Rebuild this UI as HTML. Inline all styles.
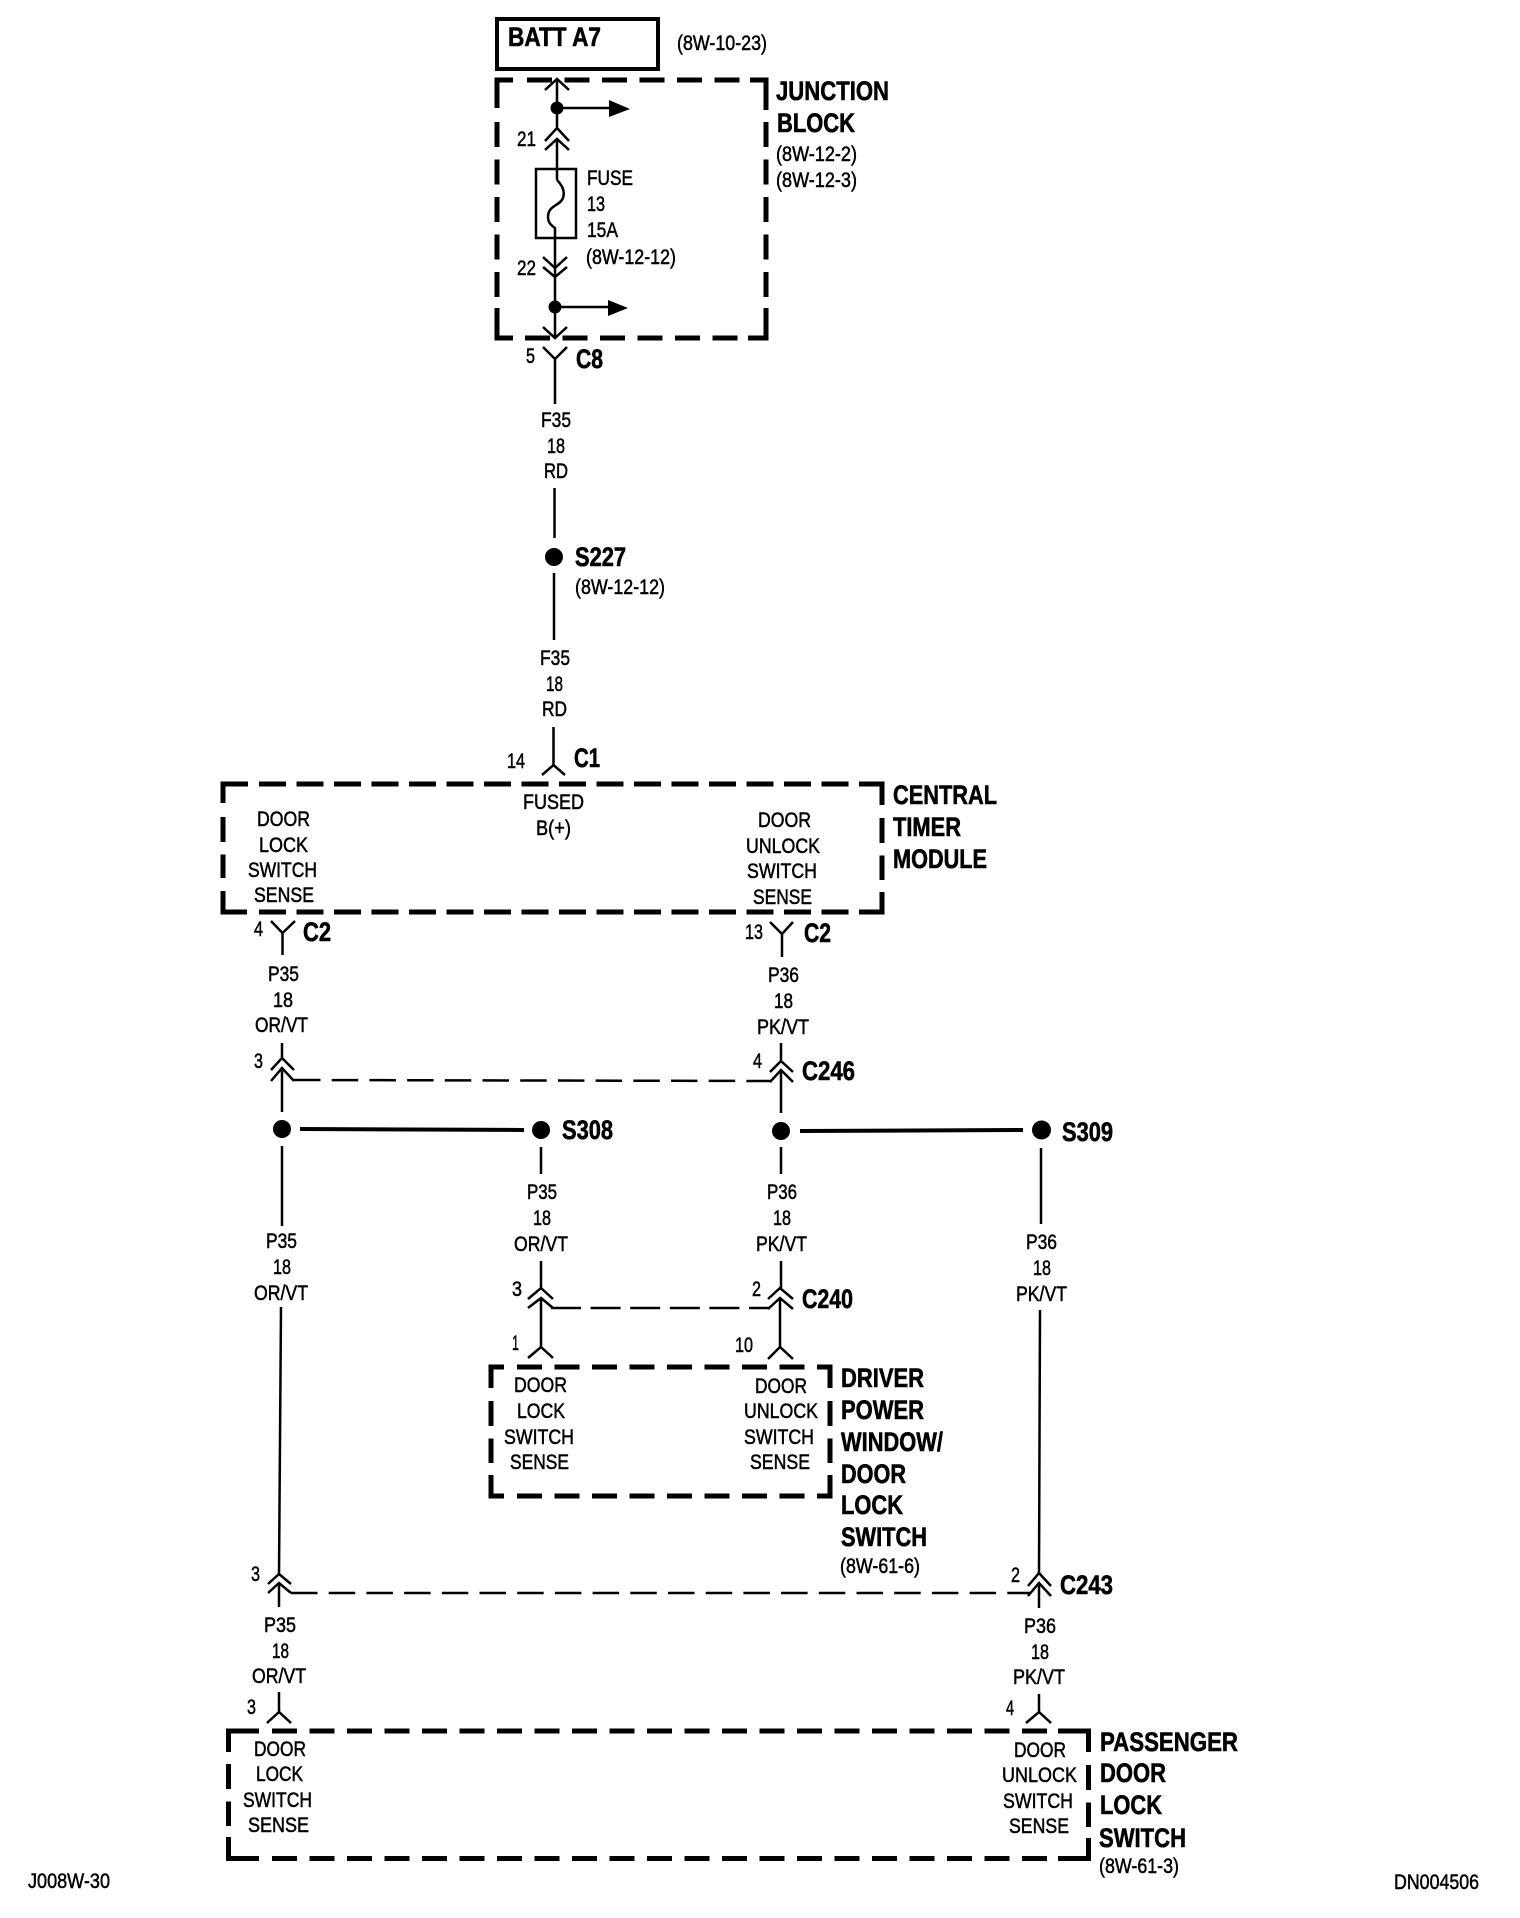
<!DOCTYPE html>
<html><head><meta charset="utf-8"><style>
html,body{margin:0;padding:0;background:#fff}
svg{display:block}
text{font-family:"Liberation Sans",sans-serif;fill:#000}
.r{font-size:21px;stroke:#000;stroke-width:.5}
.b{font-size:27px;font-weight:bold;stroke:#000;stroke-width:.6}
.w{stroke:#000;stroke-width:2.5;fill:none}
.d{stroke:#000;stroke-width:5;fill:none;stroke-dasharray:25 12.5}
.c{stroke:#000;stroke-width:5;fill:none}
.t{stroke:#000;stroke-width:2.5;fill:none;stroke-dasharray:26.5 11.2}
</style></head><body>
<svg xmlns="http://www.w3.org/2000/svg" width="1520" height="1918" viewBox="0 0 1520 1918">
<rect width="1520" height="1918" fill="#fff"/>

<!-- BATT -->
<rect x="497" y="19" width="161" height="50" fill="none" stroke="#000" stroke-width="4"/>
<text class="b" x="508" y="46" textLength="93" lengthAdjust="spacingAndGlyphs">BATT A7</text>
<text class="r" x="677" y="50" textLength="90" lengthAdjust="spacingAndGlyphs">(8W-10-23)</text>

<!-- Junction block -->
<polyline class="c" points="497,108 497,80 513,80"/>
<polyline class="c" points="750,80 766,80 766,110"/>
<polyline class="c" points="497,308 497,338 513,338"/>
<polyline class="c" points="748,338 766,338 766,308"/>
<line class="d" x1="527" y1="80" x2="740" y2="80"/>
<line class="d" x1="525" y1="338" x2="740" y2="338"/>
<line class="d" x1="497" y1="122" x2="497" y2="297"/>
<line class="d" x1="766" y1="122" x2="766" y2="297"/>
<path class="w" d="M557 79V128M545 90L557 79L569 90M545 141L557 128L569 141M545 150L557 139L569 150M557 139V180"/>
<circle cx="557" cy="108" r="6.5"/>
<path class="w" d="M557 108H612"/><path d="M609 100L630 109L609 117Z"/>
<rect x="536" y="169" width="40" height="69" fill="none" stroke="#000" stroke-width="2.5"/>
<path class="w" d="M557 180C563 186 565 192 563 198C560 206 548 205 548 217C548 223 552 226 555 228V338M543 257L555 268L567 257M543 267L555 277L567 267M543 327L555 338L567 327"/>
<circle cx="555" cy="307" r="6.5"/>
<path class="w" d="M555 307H610"/><path d="M608 300L628 308L608 316Z"/>
<text class="b" x="776" y="100" textLength="113" lengthAdjust="spacingAndGlyphs">JUNCTION</text>
<text class="b" x="777" y="132" textLength="78" lengthAdjust="spacingAndGlyphs">BLOCK</text>
<text class="r" x="776" y="161" textLength="81" lengthAdjust="spacingAndGlyphs">(8W-12-2)</text>
<text class="r" x="776" y="187" textLength="81" lengthAdjust="spacingAndGlyphs">(8W-12-3)</text>
<text class="r" x="587" y="185" textLength="46" lengthAdjust="spacingAndGlyphs">FUSE</text>
<text class="r" x="587" y="211" textLength="18" lengthAdjust="spacingAndGlyphs">13</text>
<text class="r" x="587" y="237" textLength="31" lengthAdjust="spacingAndGlyphs">15A</text>
<text class="r" x="586" y="264" textLength="90" lengthAdjust="spacingAndGlyphs">(8W-12-12)</text>
<text class="r" x="517" y="146" textLength="19" lengthAdjust="spacingAndGlyphs">21</text>
<text class="r" x="517" y="275" textLength="19" lengthAdjust="spacingAndGlyphs">22</text>
<text class="r" x="526" y="363" textLength="9" lengthAdjust="spacingAndGlyphs">5</text>
<text class="b" x="576" y="368" textLength="27" lengthAdjust="spacingAndGlyphs">C8</text>

<!-- C8 to S227 to C1 -->
<path class="w" d="M543 347L555 359L567 347M555 359V404M554.5 488V538M554 573V640M553.5 727V765M542 775L553.5 765L565 775"/>
<text class="r" x="541" y="427" textLength="30" lengthAdjust="spacingAndGlyphs">F35</text>
<text class="r" x="547" y="453" textLength="18" lengthAdjust="spacingAndGlyphs">18</text>
<text class="r" x="544" y="478" textLength="24" lengthAdjust="spacingAndGlyphs">RD</text>
<circle cx="554" cy="557" r="9"/>
<text class="b" x="575" y="566" textLength="51" lengthAdjust="spacingAndGlyphs">S227</text>
<text class="r" x="575" y="594" textLength="90" lengthAdjust="spacingAndGlyphs">(8W-12-12)</text>
<text class="r" x="540" y="665" textLength="30" lengthAdjust="spacingAndGlyphs">F35</text>
<text class="r" x="546" y="691" textLength="17" lengthAdjust="spacingAndGlyphs">18</text>
<text class="r" x="542" y="716" textLength="25" lengthAdjust="spacingAndGlyphs">RD</text>
<text class="r" x="507" y="768" textLength="18" lengthAdjust="spacingAndGlyphs">14</text>
<text class="b" x="574" y="767" textLength="26" lengthAdjust="spacingAndGlyphs">C1</text>

<!-- Central timer module -->
<polyline class="c" points="223,803 223,784 248,784"/>
<polyline class="c" points="859,784 882,784 882,805"/>
<polyline class="c" points="223,891 223,912 247,912"/>
<polyline class="c" points="859,912 882,912 882,892"/>
<line class="d" x1="259" y1="784" x2="848.5" y2="784" style="stroke-dasharray:27 10.5"/>
<line class="d" x1="259" y1="912" x2="848.5" y2="912" style="stroke-dasharray:27 10.5"/>
<line class="d" x1="223" y1="817" x2="223" y2="878"/>
<line class="d" x1="882" y1="818" x2="882" y2="880"/>
<text class="r" x="523" y="809" textLength="61" lengthAdjust="spacingAndGlyphs">FUSED</text>
<text class="r" x="536" y="835" textLength="35" lengthAdjust="spacingAndGlyphs">B(+)</text>
<text class="r" x="257" y="826" textLength="53" lengthAdjust="spacingAndGlyphs">DOOR</text>
<text class="r" x="259" y="852" textLength="49" lengthAdjust="spacingAndGlyphs">LOCK</text>
<text class="r" x="248" y="877" textLength="69" lengthAdjust="spacingAndGlyphs">SWITCH</text>
<text class="r" x="254" y="902" textLength="60" lengthAdjust="spacingAndGlyphs">SENSE</text>
<text class="r" x="758" y="827" textLength="53" lengthAdjust="spacingAndGlyphs">DOOR</text>
<text class="r" x="746" y="853" textLength="74" lengthAdjust="spacingAndGlyphs">UNLOCK</text>
<text class="r" x="747" y="878" textLength="70" lengthAdjust="spacingAndGlyphs">SWITCH</text>
<text class="r" x="753" y="904" textLength="59" lengthAdjust="spacingAndGlyphs">SENSE</text>
<text class="b" x="893" y="804" textLength="104" lengthAdjust="spacingAndGlyphs">CENTRAL</text>
<text class="b" x="893" y="836" textLength="68" lengthAdjust="spacingAndGlyphs">TIMER</text>
<text class="b" x="893" y="868" textLength="94" lengthAdjust="spacingAndGlyphs">MODULE</text>

<!-- C2 connectors -->
<path class="w" d="M271 921L282.5 933L295 921M282.5 933V955M770 922L782 934L793 922M782 934V957"/>
<text class="r" x="254" y="936" textLength="9" lengthAdjust="spacingAndGlyphs">4</text>
<text class="b" x="303" y="941" textLength="28" lengthAdjust="spacingAndGlyphs">C2</text>
<text class="r" x="745" y="939" textLength="18" lengthAdjust="spacingAndGlyphs">13</text>
<text class="b" x="804" y="942" textLength="27" lengthAdjust="spacingAndGlyphs">C2</text>
<text class="r" x="268" y="981" textLength="31" lengthAdjust="spacingAndGlyphs">P35</text>
<text class="r" x="273" y="1007" textLength="20" lengthAdjust="spacingAndGlyphs">18</text>
<text class="r" x="255" y="1032" textLength="53" lengthAdjust="spacingAndGlyphs">OR/VT</text>
<text class="r" x="768" y="982" textLength="31" lengthAdjust="spacingAndGlyphs">P36</text>
<text class="r" x="774" y="1008" textLength="19" lengthAdjust="spacingAndGlyphs">18</text>
<text class="r" x="757" y="1034" textLength="52" lengthAdjust="spacingAndGlyphs">PK/VT</text>

<!-- C246 -->
<path class="w" d="M282 1043V1058M271 1070L282 1058L294 1070M271 1081L282 1068L294 1081M282 1068V1112M781 1043V1061M770 1072L781 1061L793 1072M770 1082L781 1070L793 1082M781 1070V1113"/>
<line class="t" x1="294" y1="1080" x2="770" y2="1081"/>
<text class="r" x="254" y="1068" textLength="9" lengthAdjust="spacingAndGlyphs">3</text>
<text class="r" x="753" y="1068" textLength="9" lengthAdjust="spacingAndGlyphs">4</text>
<text class="b" x="802" y="1080" textLength="53" lengthAdjust="spacingAndGlyphs">C246</text>

<!-- Splices -->
<circle cx="282" cy="1129" r="9"/><circle cx="541" cy="1130" r="9"/><circle cx="781" cy="1131" r="9"/><circle cx="1041.5" cy="1130" r="9.5"/>
<line x1="300" y1="1129" x2="524" y2="1130" stroke="#000" stroke-width="4"/>
<line x1="800" y1="1131" x2="1023" y2="1130" stroke="#000" stroke-width="4"/>
<text class="b" x="562" y="1139" textLength="51" lengthAdjust="spacingAndGlyphs">S308</text>
<text class="b" x="1062" y="1141" textLength="51" lengthAdjust="spacingAndGlyphs">S309</text>
<path class="w" d="M282 1146V1226M281 1307L279 1574M541 1147V1174M541 1261V1288M781 1147V1174M781 1261V1288M1041 1148V1224M1040 1310L1039 1573"/>

<text class="r" x="266" y="1248" textLength="31" lengthAdjust="spacingAndGlyphs">P35</text>
<text class="r" x="273" y="1274" textLength="18" lengthAdjust="spacingAndGlyphs">18</text>
<text class="r" x="254" y="1300" textLength="54" lengthAdjust="spacingAndGlyphs">OR/VT</text>
<text class="r" x="527" y="1199" textLength="30" lengthAdjust="spacingAndGlyphs">P35</text>
<text class="r" x="533" y="1225" textLength="18" lengthAdjust="spacingAndGlyphs">18</text>
<text class="r" x="514" y="1251" textLength="54" lengthAdjust="spacingAndGlyphs">OR/VT</text>
<text class="r" x="767" y="1199" textLength="30" lengthAdjust="spacingAndGlyphs">P36</text>
<text class="r" x="773" y="1225" textLength="18" lengthAdjust="spacingAndGlyphs">18</text>
<text class="r" x="756" y="1251" textLength="51" lengthAdjust="spacingAndGlyphs">PK/VT</text>
<text class="r" x="1026" y="1249" textLength="31" lengthAdjust="spacingAndGlyphs">P36</text>
<text class="r" x="1033" y="1275" textLength="18" lengthAdjust="spacingAndGlyphs">18</text>
<text class="r" x="1016" y="1301" textLength="51" lengthAdjust="spacingAndGlyphs">PK/VT</text>

<!-- C240 -->
<path class="w" d="M528 1299L541 1288L553 1299M528 1308L541 1298L553 1308M541 1298V1347M528 1358L541 1347L553 1358M768 1299L780 1288L793 1299M768 1309L780 1298L793 1309M780 1298V1347M768 1359L780 1347L793 1359"/>
<line class="t" x1="551" y1="1308" x2="770" y2="1308" style="stroke-dasharray:30 9.6"/>
<text class="r" x="512" y="1296" textLength="10" lengthAdjust="spacingAndGlyphs">3</text>
<text class="r" x="512" y="1350" textLength="7" lengthAdjust="spacingAndGlyphs">1</text>
<text class="r" x="752" y="1296" textLength="9" lengthAdjust="spacingAndGlyphs">2</text>
<text class="r" x="735" y="1352" textLength="18" lengthAdjust="spacingAndGlyphs">10</text>
<text class="b" x="802" y="1308" textLength="51" lengthAdjust="spacingAndGlyphs">C240</text>

<!-- Driver box -->
<polyline class="c" points="491,1388 491,1367 504,1367"/>
<polyline class="c" points="817,1367 830,1367 830,1388"/>
<polyline class="c" points="491,1475 491,1496 504,1496"/>
<polyline class="c" points="817,1496 830,1496 830,1475"/>
<line class="d" x1="517" y1="1367" x2="805" y2="1367"/>
<line class="d" x1="517" y1="1496" x2="805" y2="1496"/>
<line class="d" x1="491" y1="1401" x2="491" y2="1463"/>
<line class="d" x1="830" y1="1401" x2="830" y2="1463"/>
<text class="r" x="514" y="1392" textLength="53" lengthAdjust="spacingAndGlyphs">DOOR</text>
<text class="r" x="517" y="1418" textLength="48" lengthAdjust="spacingAndGlyphs">LOCK</text>
<text class="r" x="504" y="1444" textLength="70" lengthAdjust="spacingAndGlyphs">SWITCH</text>
<text class="r" x="510" y="1469" textLength="59" lengthAdjust="spacingAndGlyphs">SENSE</text>
<text class="r" x="755" y="1393" textLength="52" lengthAdjust="spacingAndGlyphs">DOOR</text>
<text class="r" x="744" y="1418" textLength="74" lengthAdjust="spacingAndGlyphs">UNLOCK</text>
<text class="r" x="744" y="1444" textLength="70" lengthAdjust="spacingAndGlyphs">SWITCH</text>
<text class="r" x="750" y="1469" textLength="60" lengthAdjust="spacingAndGlyphs">SENSE</text>
<text class="b" x="841" y="1387" textLength="83" lengthAdjust="spacingAndGlyphs">DRIVER</text>
<text class="b" x="841" y="1419" textLength="83" lengthAdjust="spacingAndGlyphs">POWER</text>
<text class="b" x="841" y="1451" textLength="102" lengthAdjust="spacingAndGlyphs">WINDOW/</text>
<text class="b" x="841" y="1483" textLength="65" lengthAdjust="spacingAndGlyphs">DOOR</text>
<text class="b" x="841" y="1514" textLength="62" lengthAdjust="spacingAndGlyphs">LOCK</text>
<text class="b" x="841" y="1546" textLength="86" lengthAdjust="spacingAndGlyphs">SWITCH</text>
<text class="r" x="840" y="1573" textLength="80" lengthAdjust="spacingAndGlyphs">(8W-61-6)</text>

<!-- C243 -->
<path class="w" d="M268 1584L279 1574L291 1584M268 1593L279 1583L291 1593M279 1583V1607M1028 1586L1039 1573L1051 1586M1028 1596L1039 1583L1051 1596M1039 1583V1608"/>
<line class="t" x1="291" y1="1593" x2="1030" y2="1593"/>
<text class="r" x="251" y="1581" textLength="9" lengthAdjust="spacingAndGlyphs">3</text>
<text class="r" x="1011" y="1582" textLength="9" lengthAdjust="spacingAndGlyphs">2</text>
<text class="b" x="1060" y="1594" textLength="53" lengthAdjust="spacingAndGlyphs">C243</text>
<text class="r" x="264" y="1632" textLength="32" lengthAdjust="spacingAndGlyphs">P35</text>
<text class="r" x="272" y="1658" textLength="17" lengthAdjust="spacingAndGlyphs">18</text>
<text class="r" x="252" y="1683" textLength="54" lengthAdjust="spacingAndGlyphs">OR/VT</text>
<text class="r" x="1024" y="1633" textLength="32" lengthAdjust="spacingAndGlyphs">P36</text>
<text class="r" x="1031" y="1659" textLength="18" lengthAdjust="spacingAndGlyphs">18</text>
<text class="r" x="1013" y="1684" textLength="52" lengthAdjust="spacingAndGlyphs">PK/VT</text>
<path class="w" d="M279 1692V1712M267 1723L279 1712L291 1723M1039 1694V1712M1026 1723L1039 1712L1051 1723"/>
<text class="r" x="247" y="1714" textLength="9" lengthAdjust="spacingAndGlyphs">3</text>
<text class="r" x="1006" y="1715" textLength="8" lengthAdjust="spacingAndGlyphs">4</text>

<!-- Passenger box -->
<polyline class="c" points="228.5,1752 228.5,1731 259,1731"/>
<polyline class="c" points="1058,1731 1088.5,1731 1088.5,1752"/>
<polyline class="c" points="228.5,1837 228.5,1858.5 259,1858.5"/>
<polyline class="c" points="1058,1858.5 1088.5,1858.5 1088.5,1838"/>
<line class="d" x1="272" y1="1731" x2="1047" y2="1731"/>
<line class="d" x1="272" y1="1858.5" x2="1047" y2="1858.5"/>
<line class="d" x1="228.5" y1="1764" x2="228.5" y2="1826"/>
<line class="d" x1="1088.5" y1="1765" x2="1088.5" y2="1827"/>
<text class="r" x="254" y="1756" textLength="52" lengthAdjust="spacingAndGlyphs">DOOR</text>
<text class="r" x="256" y="1781" textLength="47" lengthAdjust="spacingAndGlyphs">LOCK</text>
<text class="r" x="243" y="1807" textLength="69" lengthAdjust="spacingAndGlyphs">SWITCH</text>
<text class="r" x="248" y="1832" textLength="61" lengthAdjust="spacingAndGlyphs">SENSE</text>
<text class="r" x="1014" y="1757" textLength="52" lengthAdjust="spacingAndGlyphs">DOOR</text>
<text class="r" x="1002" y="1782" textLength="75" lengthAdjust="spacingAndGlyphs">UNLOCK</text>
<text class="r" x="1003" y="1808" textLength="70" lengthAdjust="spacingAndGlyphs">SWITCH</text>
<text class="r" x="1009" y="1833" textLength="60" lengthAdjust="spacingAndGlyphs">SENSE</text>
<text class="b" x="1100" y="1751" textLength="138" lengthAdjust="spacingAndGlyphs">PASSENGER</text>
<text class="b" x="1100" y="1782" textLength="66" lengthAdjust="spacingAndGlyphs">DOOR</text>
<text class="b" x="1100" y="1814" textLength="62" lengthAdjust="spacingAndGlyphs">LOCK</text>
<text class="b" x="1099" y="1847" textLength="87" lengthAdjust="spacingAndGlyphs">SWITCH</text>
<text class="r" x="1099" y="1873" textLength="80" lengthAdjust="spacingAndGlyphs">(8W-61-3)</text>

<text class="r" x="28" y="1888" textLength="82" lengthAdjust="spacingAndGlyphs">J008W-30</text>
<text class="r" x="1394" y="1889" textLength="85" lengthAdjust="spacingAndGlyphs">DN004506</text>
</svg>
</body></html>
